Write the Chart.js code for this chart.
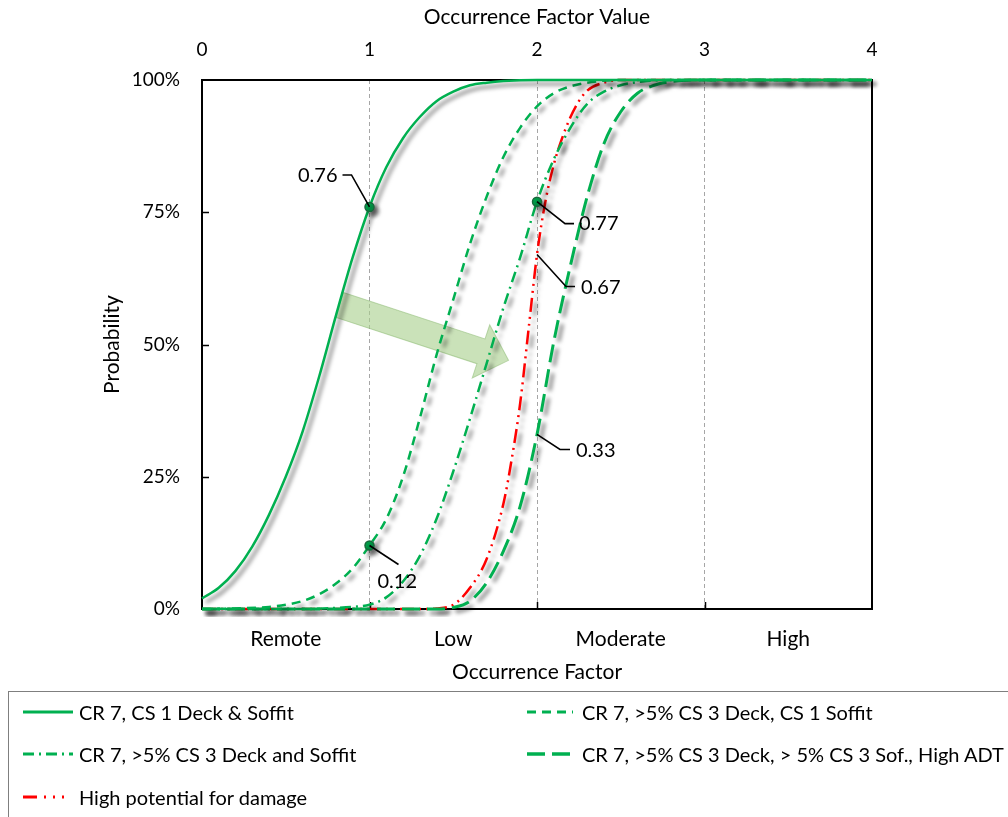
<!DOCTYPE html>
<html>
<head>
<meta charset="utf-8">
<script src="https://cdn.jsdelivr.net/npm/chart.js@4.4.1/dist/chart.umd.min.js"></script>
<style>
  html, body { margin: 0; padding: 0; background: #fff; }
  #wrap { position: relative; width: 1008px; height: 817px; overflow: hidden; font-family: Lato, "Open Sans", sans-serif; }
  #chart { position: absolute; left: 0; top: 0; }
  #legend { position: absolute; left: 8px; top: 691px; width: 1030px; height: 150px;
            border: 1.5px solid #7f7f7f; box-sizing: border-box; }
  .item { position: absolute; display: flex; align-items: center; height: 24px;
          font-size: 20px; color: #000; white-space: nowrap; }
  .item svg { display: block; }
</style>
</head>
<body>
<div id="wrap">
  <canvas id="chart" width="1008" height="817"></canvas>
  <div id="legend"></div>
</div>
<script>
// ---- data ---------------------------------------------------------------
const seriesNames = [
  'CR 7, CS 1 Deck & Soffit',
  'CR 7, >5% CS 3 Deck, CS 1 Soffit',
  'CR 7, >5% CS 3 Deck and Soffit',
  'CR 7, >5% CS 3 Deck, > 5% CS 3 Sof., High ADT',
  'High potential for damage'
];

// CR 7, CS 1 Deck & Soffit
const cs1X = [0, 0.1, 0.2, 0.3, 0.4, 0.5, 0.6, 0.7, 0.8, 0.9, 1.0, 1.1, 1.2, 1.3, 1.4, 1.5, 1.6, 1.7, 1.8, 2.0, 2.5, 3.0, 4.0];
const cs1Y = [0.02, 0.04, 0.072, 0.118, 0.178, 0.25, 0.335, 0.44, 0.555, 0.665, 0.76, 0.835, 0.89, 0.93, 0.96, 0.978, 0.99, 0.995, 0.998, 1, 1, 1, 1];

// CR 7, >5% CS 3 Deck, CS 1 Soffit
const deckX = [0, 0.2, 0.4, 0.5, 0.6, 0.7, 0.8, 0.9, 1.0, 1.1, 1.2, 1.3, 1.4, 1.5, 1.6, 1.7, 1.8, 1.9, 2.0, 2.1, 2.2, 2.3, 2.5, 3.0, 4.0];
const deckY = [0, 0.001, 0.004, 0.008, 0.015, 0.028, 0.048, 0.077, 0.12, 0.17, 0.25, 0.36, 0.48, 0.585, 0.69, 0.78, 0.855, 0.91, 0.95, 0.975, 0.988, 0.995, 1, 1, 1];

// CR 7, >5% CS 3 Deck and Soffit
const bothX = [0, 0.6, 0.8, 0.9, 1.0, 1.1, 1.2, 1.3, 1.4, 1.5, 1.6, 1.7, 1.8, 1.9, 2.0, 2.1, 2.2, 2.3, 2.4, 2.5, 2.6, 2.8, 3.0, 4.0];
const bothY = [0, 0, 0.002, 0.004, 0.008, 0.022, 0.052, 0.10, 0.17, 0.26, 0.36, 0.465, 0.57, 0.665, 0.77, 0.85, 0.91, 0.955, 0.978, 0.99, 0.996, 1, 1, 1];

// CR 7, >5% CS 3 Deck, > 5% CS 3 Sof., High ADT
const adtX = [0, 1.4, 1.5, 1.6, 1.7, 1.8, 1.9, 2.0, 2.1, 2.2, 2.3, 2.4, 2.5, 2.6, 2.7, 2.8, 3.0, 4.0];
const adtY = [0, 0, 0.003, 0.015, 0.05, 0.11, 0.195, 0.33, 0.505, 0.65, 0.78, 0.88, 0.94, 0.975, 0.99, 0.997, 1, 1];

// High potential for damage
const damageX = [0, 1.3, 1.4, 1.5, 1.6, 1.7, 1.8, 1.85, 1.9, 1.95, 2.0, 2.05, 2.1, 2.15, 2.2, 2.25, 2.3, 2.4, 2.5, 3.0, 4.0];
const damageY = [0, 0, 0.001, 0.008, 0.04, 0.095, 0.20, 0.285, 0.39, 0.53, 0.67, 0.77, 0.84, 0.89, 0.93, 0.96, 0.98, 0.995, 1, 1, 1];

// axis labels
const factorTicks = [0, 1, 2, 3, 4];
const probTicks = [0, 0.25, 0.5, 0.75, 1];
const categories = ['Remote', 'Low', 'Moderate', 'High'];
const categoryCenters = [0.5, 1.5, 2.5, 3.5];
const bandEdges = [1, 2, 3];

// labelled values
const calloutX = [1, 2, 2, 2, 1];
const calloutY = [0.76, 0.77, 0.67, 0.33, 0.12];
const calloutText = ['0.76', '0.77', '0.67', '0.33', '0.12'];
const calloutMarked = [true, true, false, false, true];

// shift arrow, from / to in data units
const arrowFrom = [0.82, 0.575];
const arrowTo = [1.83, 0.47];

// ---- styles -------------------------------------------------------------
const GREEN = '#00B050';
const RED = '#FF0000';
const styles = [
  { color: GREEN, width: 2.5, dash: [] },
  { color: GREEN, width: 2.5, dash: [9, 6] },
  { color: GREEN, width: 2.5, dash: [11, 5, 2, 5] },
  { color: GREEN, width: 3,   dash: [18, 7] },
  { color: RED,   width: 2.5, dash: [14, 5, 2, 5, 2, 5], legendDash: [14, 7, 2, 7, 2, 7, 2, 30] }
];
const seriesX = [cs1X, deckX, bothX, adtX, damageX];
const seriesY = [cs1Y, deckY, bothY, adtY, damageY];

// leader geometry per callout (pixels from the labelled point)
const leaderGeom = [
  { elbow: [-18, -32], end: -27, text: [-32, -31], align: 'right' },
  { elbow: [28, 22],   end: 37,  text: [42, 22],   align: 'left' },
  { elbow: [29, 32],   end: 38,  text: [44, 33],   align: 'left' },
  { elbow: [23, 15],   end: 33,  text: [39, 16],   align: 'left' },
  { elbow: [29, 19],   end: 29,  text: [8, 36],    align: 'left' }
];

const FONT = 'Lato, "Open Sans", sans-serif';

// ---- chart --------------------------------------------------------------
Chart.defaults.font.family = FONT;
Chart.defaults.color = '#000';

const datasets = seriesNames.map((name, i) => ({
  label: name,
  data: seriesX[i].map((x, k) => ({ x: x, y: seriesY[i][k] })),
  borderColor: styles[i].color,
  borderWidth: styles[i].width,
  borderDash: styles[i].dash,
  borderCapStyle: 'butt',
  pointRadius: 0,
  fill: false,
  cubicInterpolationMode: 'monotone',
  clip: 8
}));

datasets.push({
  label: 'markers',
  type: 'scatter',
  data: calloutX.map((x, k) => ({ x: x, y: calloutY[k] })).filter((p, k) => calloutMarked[k]),
  showLine: false,
  pointRadius: 4.5,
  pointBackgroundColor: '#00A04A',
  pointBorderColor: '#17683A',
  pointBorderWidth: 1.5,
  order: -1,
  clip: 8
});

const decorPlugin = {
  id: 'decor',
  beforeDatasetsDraw(chart) {
    const { ctx, chartArea: a, scales } = chart;
    const sx = v => scales.x.getPixelForValue(v);
    const sy = v => scales.y.getPixelForValue(v);

    // shift arrow
    const p0 = { x: sx(arrowFrom[0]), y: sy(arrowFrom[1]) };
    const p1 = { x: sx(arrowTo[0]), y: sy(arrowTo[1]) };
    const ang = Math.atan2(p1.y - p0.y, p1.x - p0.x);
    const len = Math.hypot(p1.x - p0.x, p1.y - p0.y);
    const bw = 13, hw = 28, hl = 29;
    ctx.save();
    ctx.translate(p0.x, p0.y);
    ctx.rotate(ang);
    ctx.beginPath();
    ctx.moveTo(0, -bw);
    ctx.lineTo(len - hl, -bw);
    ctx.lineTo(len - hl, -hw);
    ctx.lineTo(len, 0);
    ctx.lineTo(len - hl, hw);
    ctx.lineTo(len - hl, bw);
    ctx.lineTo(0, bw);
    ctx.closePath();
    ctx.fillStyle = 'rgba(169, 209, 142, 0.62)';
    ctx.fill();
    ctx.strokeStyle = 'rgba(140, 185, 115, 0.55)';
    ctx.lineWidth = 1;
    ctx.stroke();
    ctx.restore();

    // plot frame and inner tick marks
    ctx.save();
    ctx.strokeStyle = '#000';
    ctx.lineWidth = 2;
    ctx.strokeRect(a.left, a.top, a.right - a.left, a.bottom - a.top);
    ctx.lineWidth = 1.5;
    ctx.beginPath();
    probTicks.slice(1, -1).forEach(v => {
      const y = Math.round(sy(v)) + 0.5;
      ctx.moveTo(a.left, y); ctx.lineTo(a.left + 7, y);
    });
    bandEdges.forEach(v => {
      const x = Math.round(sx(v)) + 0.5;
      ctx.moveTo(x, a.bottom); ctx.lineTo(x, a.bottom - 7);
    });
    ctx.stroke();
    ctx.restore();
  },
  beforeDatasetDraw(chart) {
    // soft drop shadow under every curve
    const ctx = chart.ctx;
    ctx.save();
    ctx.shadowColor = 'rgba(0, 0, 0, 0.55)';
    ctx.shadowBlur = 4;
    ctx.shadowOffsetX = 4;
    ctx.shadowOffsetY = 4;
  },
  afterDatasetDraw(chart) {
    chart.ctx.restore();
  },
  afterDatasetsDraw(chart) {
    const { ctx, scales } = chart;
    ctx.save();
    ctx.strokeStyle = '#000';
    ctx.lineWidth = 1.6;
    ctx.fillStyle = '#000';
    ctx.font = '20px ' + FONT;
    ctx.textBaseline = 'middle';
    calloutX.forEach((xv, i) => {
      const px = scales.x.getPixelForValue(xv);
      const py = scales.y.getPixelForValue(calloutY[i]);
      const g = leaderGeom[i];
      ctx.beginPath();
      ctx.moveTo(px, py);
      ctx.lineTo(px + g.elbow[0], py + g.elbow[1]);
      ctx.lineTo(px + g.end, py + g.elbow[1]);
      ctx.stroke();
      ctx.textAlign = g.align;
      ctx.fillText(calloutText[i], px + g.text[0], py + g.text[1]);
    });
    ctx.restore();
  }
};

new Chart(document.getElementById('chart'), {
  type: 'line',
  data: { datasets: datasets },
  options: {
    responsive: false,
    animation: false,
    events: [],
    layout: { padding: { left: 0, top: 0, right: 136, bottom: 129 } },
    plugins: { legend: { display: false }, tooltip: { enabled: false } },
    scales: {
      x: {
        type: 'linear', position: 'bottom', min: 0, max: 4,
        afterFit: s => { s.height = 79; },
        afterBuildTicks: s => { s.ticks = categoryCenters.map(v => ({ value: v })); },
        ticks: { autoSkip: false, maxRotation: 0, padding: 18, font: { size: 21 },
                 callback: (v, i) => categories[i] },
        grid: { display: false, drawTicks: false },
        border: { display: false },
        title: { display: true, text: 'Occurrence Factor', font: { size: 21 }, padding: { bottom: 3 } }
      },
      xTop: {
        type: 'linear', position: 'top', min: 0, max: 4,
        afterFit: s => { s.height = 80; },
        afterBuildTicks: s => { s.ticks = factorTicks.map(v => ({ value: v })); },
        ticks: { autoSkip: false, maxRotation: 0, padding: 19, font: { size: 19 },
                 callback: v => String(v) },
        grid: {
          drawTicks: false, drawOnChartArea: true, lineWidth: 1,
          color: c => (c.tick && bandEdges.includes(c.tick.value)) ? '#A6A6A6' : 'rgba(0,0,0,0)'
        },
        border: { display: false, dash: [4, 3] },
        title: { display: true, text: 'Occurrence Factor Value', font: { size: 21 }, padding: { top: 5 } }
      },
      y: {
        type: 'linear', position: 'left', min: 0, max: 1,
        afterFit: s => { s.width = 202; },
        afterBuildTicks: s => { s.ticks = probTicks.map(v => ({ value: v })); },
        ticks: { padding: 22, font: { size: 19 }, callback: v => Math.round(v * 100) + '%' },
        grid: { display: false, drawTicks: false },
        border: { display: false },
        title: { display: true, text: 'Probability', font: { size: 21 }, padding: { top: 100 } }
      }
    }
  },
  plugins: [decorPlugin]
});

// ---- legend -------------------------------------------------------------
const legendSlots = [
  { left: 14, cy: 20, sample: 50, gap: 6 },
  { left: 518, cy: 20, sample: 46, gap: 9 },
  { left: 14, cy: 62, sample: 50, gap: 6 },
  { left: 518, cy: 62, sample: 46, gap: 9 },
  { left: 14, cy: 105, sample: 50, gap: 6 }
];
const legendOrder = [0, 1, 2, 3, 4];
const legendEl = document.getElementById('legend');
legendOrder.forEach((si, k) => {
  const slot = legendSlots[k];
  const st = styles[si];
  const dash = st.legendDash || st.dash;
  const item = document.createElement('div');
  item.className = 'item';
  item.style.left = slot.left + 'px';
  item.style.top = (slot.cy - 12) + 'px';
  const ns = 'http://www.w3.org/2000/svg';
  const svg = document.createElementNS(ns, 'svg');
  svg.setAttribute('width', slot.sample);
  svg.setAttribute('height', 10);
  svg.style.marginRight = slot.gap + 'px';
  const ln = document.createElementNS(ns, 'line');
  ln.setAttribute('x1', 0); ln.setAttribute('x2', slot.sample);
  ln.setAttribute('y1', 5); ln.setAttribute('y2', 5);
  ln.setAttribute('stroke', st.color);
  ln.setAttribute('stroke-width', st.width + 0.5);
  if (dash.length) ln.setAttribute('stroke-dasharray', dash.join(' '));
  svg.appendChild(ln);
  const txt = document.createElement('span');
  txt.textContent = seriesNames[si];
  item.appendChild(svg);
  item.appendChild(txt);
  legendEl.appendChild(item);
});
</script>
</body>
</html>
